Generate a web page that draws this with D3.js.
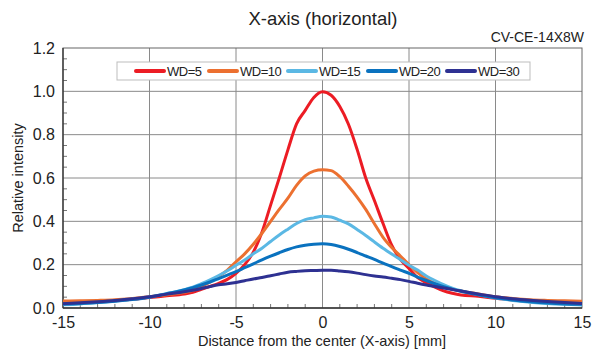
<!DOCTYPE html>
<html>
<head>
<meta charset="utf-8">
<script src="https://cdn.jsdelivr.net/npm/d3@7"></script>
<style>
  body { margin: 0; background: #fff; }
  svg { display: block; font-family: "Liberation Sans", Arial, sans-serif; }
</style>
</head>
<body>
<svg id="grafico"></svg>
<script>
const ancho = 595;
const alto = 352;

// posiciones en mm (eje X)
const distancias = [-15, -14, -13, -12, -11, -10, -9, -8,
  -7.5, -7, -6.5, -6, -5.5, -5, -4.5, -4, -3.5, -3, -2.5, -2, -1.5, -1, -0.5,
  0, 0.5, 1, 1.5, 2, 2.5, 3, 3.5, 4, 4.5, 5, 5.5, 6, 6.5, 7, 7.5,
  8, 9, 10, 11, 12, 13, 14, 15];

const wd5 = [0.025, 0.027, 0.030, 0.034, 0.040, 0.048, 0.056, 0.064,
  0.072, 0.086, 0.100, 0.114, 0.132, 0.160, 0.200, 0.258, 0.350, 0.475, 0.600, 0.730, 0.850, 0.912, 0.972,
  0.998, 0.982, 0.930, 0.848, 0.732, 0.600, 0.496, 0.390, 0.290, 0.224, 0.183, 0.140, 0.117, 0.096, 0.079, 0.068,
  0.060, 0.054, 0.045, 0.037, 0.031, 0.027, 0.025, 0.023];

const wd10 = [0.032, 0.033, 0.035, 0.038, 0.044, 0.052, 0.061, 0.072,
  0.082, 0.099, 0.120, 0.146, 0.175, 0.213, 0.250, 0.294, 0.345, 0.400, 0.455, 0.507, 0.566, 0.610, 0.632,
  0.638, 0.634, 0.606, 0.562, 0.512, 0.455, 0.389, 0.326, 0.279, 0.240, 0.200, 0.163, 0.134, 0.113, 0.097, 0.087,
  0.079, 0.065, 0.052, 0.044, 0.038, 0.035, 0.033, 0.031];

const wd15 = [0.015, 0.019, 0.025, 0.032, 0.040, 0.051, 0.067, 0.085,
  0.096, 0.112, 0.130, 0.150, 0.172, 0.197, 0.222, 0.250, 0.276, 0.307, 0.337, 0.364, 0.390, 0.408, 0.416,
  0.423, 0.420, 0.405, 0.388, 0.362, 0.335, 0.305, 0.276, 0.249, 0.223, 0.197, 0.175, 0.148, 0.127, 0.108, 0.092,
  0.080, 0.062, 0.046, 0.035, 0.027, 0.021, 0.017, 0.014];

const wd20 = [0.018, 0.021, 0.025, 0.031, 0.039, 0.050, 0.066, 0.083,
  0.094, 0.106, 0.120, 0.136, 0.152, 0.168, 0.186, 0.204, 0.222, 0.239, 0.255, 0.270, 0.282, 0.290, 0.294,
  0.296, 0.293, 0.284, 0.271, 0.256, 0.240, 0.224, 0.207, 0.191, 0.175, 0.160, 0.143, 0.127, 0.112, 0.098, 0.087,
  0.077, 0.061, 0.047, 0.037, 0.029, 0.023, 0.019, 0.017];

const wd30 = [0.020, 0.024, 0.029, 0.035, 0.043, 0.052, 0.064, 0.075,
  0.082, 0.090, 0.099, 0.107, 0.112, 0.118, 0.126, 0.134, 0.141, 0.149, 0.157, 0.165, 0.169, 0.172, 0.173,
  0.174, 0.174, 0.171, 0.167, 0.161, 0.154, 0.148, 0.143, 0.137, 0.131, 0.123, 0.114, 0.106, 0.099, 0.092, 0.085,
  0.078, 0.065, 0.052, 0.043, 0.036, 0.030, 0.025, 0.021];

const nombres = ["WD=5", "WD=10", "WD=15", "WD=20", "WD=30"];
const colores = ["#ec1c24", "#ec7030", "#5bb8e4", "#0a72bf", "#2e3192"];
const series = [wd5, wd10, wd15, wd20, wd30];

const ticksX = [-15, -10, -5, 0, 5, 10, 15];
const etiquetasX = ["-15", "-10", "-5", "0", "5", "10", "15"];
const ticksY = [0, 0.2, 0.4, 0.6, 0.8, 1.0, 1.2];

const margen = { izq: 63, der: 582, arriba: 48, abajo: 308 };

const svg = d3.select("#grafico").attr("width", ancho).attr("height", alto);

const x = d3.scaleLinear().domain([-15, 15]).range([margen.izq, margen.der]);
const y = d3.scaleLinear().domain([0, 1.2]).range([margen.abajo, margen.arriba]);

// titulo
svg.append("text")
  .attr("x", 323).attr("y", 25)
  .attr("text-anchor", "middle")
  .attr("font-size", 18.5)
  .attr("fill", "#222")
  .text("X-axis (horizontal)");

svg.append("text")
  .attr("x", 584).attr("y", 42)
  .attr("text-anchor", "end")
  .attr("font-size", 14)
  .attr("fill", "#222")
  .text("CV-CE-14X8W");

// reticula
const gGrid = svg.append("g");
gGrid.selectAll("line.vx").data(ticksX.slice(1, -1)).join("line")
  .attr("x1", d => x(d)).attr("x2", d => x(d))
  .attr("y1", margen.arriba).attr("y2", margen.abajo)
  .attr("stroke", "#8a8a8a").attr("stroke-width", 1);
gGrid.selectAll("line.hy").data(ticksY.slice(1, -1)).join("line")
  .attr("x1", margen.izq).attr("x2", margen.der)
  .attr("y1", d => y(d)).attr("y2", d => y(d))
  .attr("stroke", "#8a8a8a").attr("stroke-width", 1);

// ticks menores
const menoresX = d3.range(-14, 15, 1).filter(d => d % 5 !== 0);
svg.append("g").selectAll("line").data(menoresX).join("line")
  .attr("x1", d => x(d)).attr("x2", d => x(d))
  .attr("y1", margen.abajo).attr("y2", margen.abajo - 4)
  .attr("stroke", "#777");
const menoresY = d3.range(0.05, 1.2, 0.05).filter(d => Math.abs(d * 5 - Math.round(d * 5)) > 0.01);
svg.append("g").selectAll("line").data(menoresY).join("line")
  .attr("x1", margen.izq).attr("x2", margen.izq + 4)
  .attr("y1", d => y(d)).attr("y2", d => y(d))
  .attr("stroke", "#777");

// marco
svg.append("rect")
  .attr("x", margen.izq).attr("y", margen.arriba)
  .attr("width", margen.der - margen.izq).attr("height", margen.abajo - margen.arriba)
  .attr("fill", "none").attr("stroke", "#666").attr("stroke-width", 1);
svg.append("line")
  .attr("x1", margen.izq).attr("x2", margen.izq)
  .attr("y1", margen.arriba).attr("y2", margen.abajo)
  .attr("stroke", "#333").attr("stroke-width", 1.3);
svg.append("line")
  .attr("x1", margen.izq).attr("x2", margen.der)
  .attr("y1", margen.abajo).attr("y2", margen.abajo)
  .attr("stroke", "#333").attr("stroke-width", 1.3);

// ejes (solo etiquetas)
const ejeX = svg.append("g")
  .attr("transform", `translate(0,${margen.abajo})`)
  .call(d3.axisBottom(x).tickValues(ticksX).tickSize(0).tickPadding(9)
    .tickFormat((d, i) => etiquetasX[i]));
const ejeY = svg.append("g")
  .attr("transform", `translate(${margen.izq},0)`)
  .call(d3.axisLeft(y).tickValues(ticksY).tickSize(0).tickPadding(8).tickFormat(d3.format(".1f")));
[ejeX, ejeY].forEach(g => {
  g.select(".domain").remove();
  g.selectAll("text")
    .attr("font-size", 16)
    .attr("fill", "#222")
    .attr("font-family", "Liberation Sans, Arial, sans-serif");
});

// curvas
const linea = d3.line()
  .x((d, i) => x(distancias[i]))
  .y(d => y(d))
  .curve(d3.curveMonotoneX);

svg.append("g").selectAll("path").data(series).join("path")
  .attr("d", d => linea(d))
  .attr("fill", "none")
  .attr("stroke", (d, i) => colores[i])
  .attr("stroke-width", 3)
  .attr("stroke-linejoin", "round");

// leyenda
const gLeyenda = svg.append("g");
gLeyenda.append("rect")
  .attr("x", 117).attr("y", 62)
  .attr("width", 413).attr("height", 18)
  .attr("fill", "#fff")
  .attr("stroke", "#bdbdbd").attr("stroke-width", 1);
const posLeyenda = [136, 209, 288, 368, 447];
const items = gLeyenda.selectAll("g.item").data(nombres).join("g")
  .attr("class", "item")
  .attr("transform", (d, i) => `translate(${posLeyenda[i]},71)`);
items.append("line")
  .attr("x1", 0).attr("x2", 28)
  .attr("stroke", (d, i) => colores[i])
  .attr("stroke-width", 4)
  .attr("stroke-linecap", "round");
items.append("text")
  .attr("x", 31).attr("y", 5)
  .attr("font-size", 13)
  .attr("letter-spacing", -0.5)
  .attr("fill", "#222")
  .text(d => d);

// titulos de ejes
svg.append("text")
  .attr("x", 322).attr("y", 346)
  .attr("text-anchor", "middle")
  .attr("font-size", 14.5)
  .attr("fill", "#222")
  .text("Distance from the center (X-axis) [mm]");

svg.append("text")
  .attr("transform", "translate(23,178) rotate(-90)")
  .attr("text-anchor", "middle")
  .attr("font-size", 14.5)
  .attr("fill", "#222")
  .text("Relative intensity");
</script>
</body>
</html>
